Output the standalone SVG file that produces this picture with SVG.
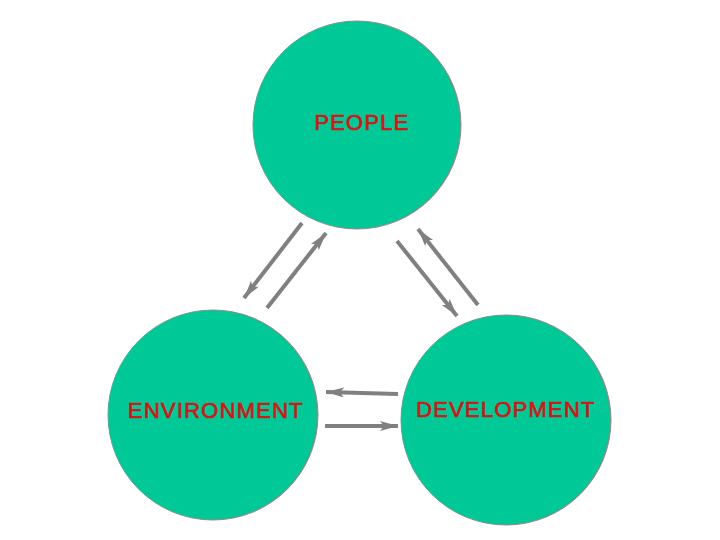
<svg xmlns="http://www.w3.org/2000/svg" width="720" height="540" viewBox="0 0 720 540">
  <style>
    .node { fill: #00c896; stroke: #8c8c8c; stroke-width: 1; }
    .label { font-family: "Liberation Sans", Arial, sans-serif; font-size: 22px; fill: #d01818; stroke: #d01818; stroke-width: 0.7; text-anchor: middle; letter-spacing: 1.2px; }
    .conn { stroke: #808080; stroke-width: 4; fill: none; stroke-linecap: butt; }
  </style>
  <defs>
    <marker id="arrow" markerUnits="userSpaceOnUse" markerWidth="22" markerHeight="12" refX="18" refY="5" orient="auto">
      <path d="M0,0 L18,5 L0,10 L4,5 z" fill="#808080"/>
    </marker>
  </defs>
  <rect width="720" height="540" fill="#ffffff"/>
  <g id="people">
    <circle class="node" cx="357" cy="125" r="104"/>
    <text class="label" x="362" y="130">PEOPLE</text>
  </g>
  <g id="environment">
    <circle class="node" cx="213" cy="415" r="105"/>
    <text class="label" x="216" y="418">ENVIRONMENT</text>
  </g>
  <g id="development">
    <circle class="node" cx="506" cy="420" r="105"/>
    <text class="label" x="506" y="417">DEVELOPMENT</text>
  </g>
  <g id="connectors">
    <line class="conn" x1="302" y1="223" x2="244" y2="298" marker-end="url(#arrow)"/>
    <line class="conn" x1="267" y1="308" x2="326" y2="233" marker-end="url(#arrow)"/>
    <line class="conn" x1="397" y1="241" x2="457" y2="316" marker-end="url(#arrow)"/>
    <line class="conn" x1="478" y1="305" x2="418" y2="229" marker-end="url(#arrow)"/>
    <line class="conn" x1="398" y1="394" x2="326" y2="392" marker-end="url(#arrow)"/>
    <line class="conn" x1="325" y1="426" x2="398" y2="426" marker-end="url(#arrow)"/>
  </g>
</svg>
